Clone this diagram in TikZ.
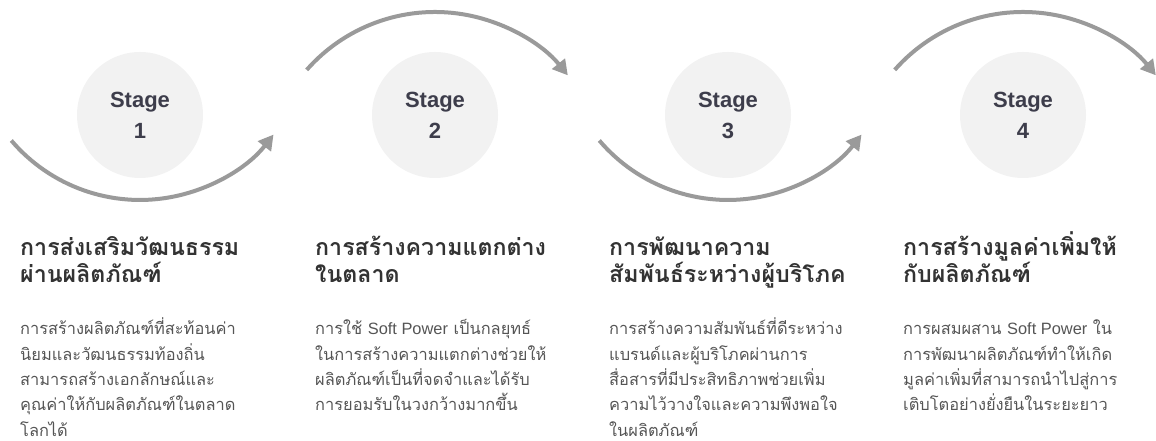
\documentclass[tikz,border=0pt]{standalone}
\usepackage{fontspec}
\usetikzlibrary{arrows.meta}
\newfontfamily\thaifont[Script=Thai]{Loma}
\newfontfamily\latinfont{Liberation Sans}
\definecolor{circfill}{HTML}{F2F2F2}
\definecolor{stagetxt}{HTML}{3D3D4B}
\definecolor{titletxt}{HTML}{333333}
\definecolor{bodytxt}{HTML}{555555}
\definecolor{arrgray}{HTML}{9A9A9A}
\tikzset{
  stagecirc/.style={circle, fill=circfill, minimum size=126pt, inner sep=0pt, align=center,
    text=stagetxt, font=\latinfont\bfseries\fontsize{22}{31}\selectfont},
  titlebox/.style={anchor=base west, inner sep=0pt, align=left, text=titletxt,
    font=\thaifont\bfseries\fontsize{23.2}{27}\selectfont},
  bodybox/.style={anchor=base west, inner sep=0pt, align=left, text=bodytxt,
    font=\thaifont\fontsize{16.4}{25.3}\selectfont},
  flowarrow/.style={draw=arrgray, line width=4pt, -{Triangle[length=15pt,width=16pt]}}
}
\begin{document}
\begin{tikzpicture}[x=1pt,y=1pt]
\useasboundingbox (0,0) rectangle (1156,441);
% circles
\node[stagecirc] (c1) at (140,326) {Stage\\1};
\node[stagecirc] (c2) at (435,326) {Stage\\2};
\node[stagecirc] (c3) at (728,326) {Stage\\3};
\node[stagecirc] (c4) at (1023,326) {Stage\\4};
% arrows
\coordinate (s1) at (11.3,300.5);
\coordinate (s2) at (306.7,371.1);
\coordinate (s3) at (599.3,300.5);
\coordinate (s4) at (894.7,371.1);
\draw[flowarrow] (s1) arc[start angle=-139.6, end angle=-37.8, radius=169pt];
\draw[flowarrow] (s2) arc[start angle=138.6, end angle=39, radius=171pt];
\draw[flowarrow] (s3) arc[start angle=-139.6, end angle=-37.8, radius=169pt];
\draw[flowarrow] (s4) arc[start angle=138.6, end angle=39, radius=171pt];
% titles (anchor = baseline of last line)
\node[titlebox] (t1) at (20,158) {การส่งเสริมวัฒนธรรม\\ผ่านผลิตภัณฑ์};
\node[titlebox] (t2) at (315,158) {การสร้างความแตกต่าง\\ในตลาด};
\node[titlebox] (t3) at (609,158) {การพัฒนาความ\\สัมพันธ์ระหว่างผู้บริโภค};
\node[titlebox] (t4) at (903,158) {การสร้างมูลค่าเพิ่มให้\\กับผลิตภัณฑ์};
% bodies (anchor = baseline of last line)
\node[bodybox] (b1) at (20,4.8) {การสร้างผลิตภัณฑ์ที่สะท้อนค่า\\นิยมและวัฒนธรรมท้องถิ่น\\สามารถสร้างเอกลักษณ์และ\\คุณค่าให้กับผลิตภัณฑ์ในตลาด\\โลกได้};
\node[bodybox] (b2) at (315,30.1) {การใช้ {\latinfont Soft Power} เป็นกลยุทธ์\\ในการสร้างความแตกต่างช่วยให้\\ผลิตภัณฑ์เป็นที่จดจำและได้รับ\\การยอมรับในวงกว้างมากขึ้น};
\node[bodybox] (b3) at (609,4.8) {การสร้างความสัมพันธ์ที่ดีระหว่าง\\แบรนด์และผู้บริโภคผ่านการ\\สื่อสารที่มีประสิทธิภาพช่วยเพิ่ม\\ความไว้วางใจและความพึงพอใจ\\ในผลิตภัณฑ์};
\node[bodybox] (b4) at (903,30.1) {การผสมผสาน {\latinfont Soft Power} ใน\\การพัฒนาผลิตภัณฑ์ทำให้เกิด\\มูลค่าเพิ่มที่สามารถนำไปสู่การ\\เติบโตอย่างยั่งยืนในระยะยาว};
\end{tikzpicture}
\end{document}
